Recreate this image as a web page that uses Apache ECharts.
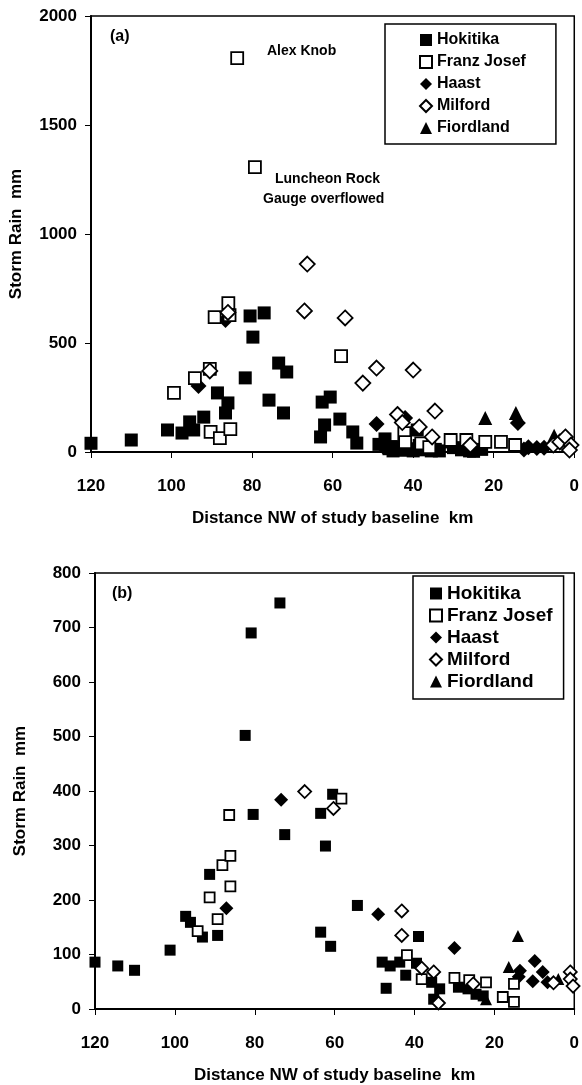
<!DOCTYPE html>
<html>
<head>
<meta charset="utf-8">
<script src="https://cdn.jsdelivr.net/npm/echarts@6/dist/echarts.min.js"></script>
<style>
  html, body { margin: 0; padding: 0; background: #fff; }
  #main { width: 582px; height: 1085px; }
</style>
</head>
<body>
<div id="main"></div>
<script>
// panel (a) - storm rain vs distance, [km, mm]
var hokitikaA = [[120,40],[110,55],[101,101],[97.4,87],[95.5,138],[94.5,101],[92,160],[88.6,271],[86.6,179],[86,225],
  [81.7,340],[80.5,624],[79.8,527],[77,638],[75.8,238],[73.4,408],[72.2,179],[71.4,367],[63,69],[62.6,229],[62,124],
  [60.6,252],[58.2,151],[55,92],[54,41],[48.5,35],[47,60],[46,15],[45,5],[44,25],[43,8],[41.5,15],[40,5],[39,101],
  [38.5,30],[37.5,10],[36.5,18],[35.5,5],[34.5,12],[33.5,5],[30.7,46],[30,20],[28,10],[26,5],[25,3],[23,12]];
var franzJosefA = [[83.7,1807],[79.3,1307],[99.4,271],[94.2,339],[90.5,381],[90.3,92],[89.3,619],[88,64],[85.9,683],
  [85.6,628],[85.4,105],[57.9,440],[42.2,87],[42,45],[38,40],[36,22],[30.7,55],[26.8,55],[22.1,46],[18.2,46],[14.7,32]];
var haastA = [[93.3,303],[86.6,605],[49.1,128],[42,156],[47.5,25],[14,133],[11.4,22],[9.3,18],[7.5,20],[12.5,12]];
var milfordA = [[90.5,372],[86,640],[66.3,862],[67,647],[56.9,615],[49.1,385],[52.5,316],[40,376],[34.6,188],[43.9,172],
  [42.7,135],[38.5,115],[35.3,69],[25.8,32],[5.2,32],[3.6,46],[2.2,69],[0.8,32],[1.2,9]];
var fiordlandA = [[22.1,156],[14.5,179],[5,75]];

// panel (b)
var hokitikaB = [[120,86],[114.3,79],[110.1,71],[101.2,108],[97.3,170],[96.1,159],[93.1,132],[91.3,247],[89.3,135],
  [82.4,502],[80.9,690],[80.4,357],[73.7,745],[72.5,320],[63.5,359],[60.5,394],[62.3,299],[54.3,190],[63.5,141],[61,115],
  [48.1,86],[47.1,38],[46.1,79],[43.7,86],[42.2,62],[39.5,84],[39,133],[35.7,49],[33.7,37],[35.2,18],[29,40],[26.6,37],
  [24.6,27],[22.8,24]];
var franzJosefB = [[94.3,143],[91.3,205],[89.3,165],[88.1,264],[86.1,281],[86.1,225],[86.4,356],[58.3,386],[41.9,99],
  [38.2,55],[30,57],[26.3,53],[22.1,49],[17.9,22],[15.1,13],[15.1,46]];
var haastB = [[87.1,185],[73.4,384],[49.1,174],[30,112],[13.6,70],[13.9,59],[9.9,88],[10.4,51],[7.9,68],[6.7,49]];
var milfordB = [[67.5,399],[60.3,368],[43.2,180],[43.2,135],[38.2,75],[35.2,68],[34,11],[25.3,46],[5.2,48],[1,68],[1,55],[0.3,42]];
var fiordlandB = [[14.1,134],[16.4,77],[22.1,18],[4,55]];

var siteNames = ['Hokitika', 'Franz Josef', 'Haast', 'Milford', 'Fiordland'];

var FONT = 'Liberation Sans';
var chart = echarts.init(document.getElementById('main'));

function xAx(idx) {
  return {
    gridIndex: idx, type: 'value', inverse: true, min: 0, max: 120, interval: 20,
    name: 'Distance NW of study baseline  km', nameLocation: 'middle', nameGap: 58,
    nameTextStyle: { fontFamily: FONT, fontWeight: 'bold', fontSize: 17, color: '#000' },
    axisLine: { show: true, onZero: false, lineStyle: { color: '#000', width: 2 } },
    axisTick: { show: true, length: 6, lineStyle: { color: '#000', width: 1 } },
    axisLabel: { fontFamily: FONT, fontWeight: 'bold', fontSize: 17, color: '#000', margin: 26 },
    splitLine: { show: false }
  };
}
function yAx(idx, max, step) {
  return {
    gridIndex: idx, type: 'value', min: 0, max: max, interval: step,
    name: 'Storm Rain  mm', nameLocation: 'middle', nameGap: 66,
    nameTextStyle: { fontFamily: FONT, fontWeight: 'bold', fontSize: 17, color: '#000' },
    axisLine: { show: true, onZero: false, lineStyle: { color: '#000', width: 2 } },
    axisTick: { show: true, length: 6, lineStyle: { color: '#000', width: 1 } },
    axisLabel: { fontFamily: FONT, fontWeight: 'bold', fontSize: 17, color: '#000', margin: 14,
      formatter: function (v) { return String(v); } },
    splitLine: { show: false }
  };
}

function seriesFor(idx, sets, sz) {
  var styles = [
    { symbol: 'rect', itemStyle: { color: '#000', opacity: 1 } },
    { symbol: 'rect', itemStyle: { color: '#fff', borderColor: '#000', borderWidth: 1.8, opacity: 1 } },
    { symbol: 'diamond', itemStyle: { color: '#000', opacity: 1 } },
    { symbol: 'diamond', itemStyle: { color: '#fff', borderColor: '#000', borderWidth: 1.8, opacity: 1 } },
    { symbol: 'triangle', itemStyle: { color: '#000', opacity: 1 } }
  ];
  var sizes = [sz, sz - 1, sz + 3, sz + 2, sz + 1];
  return sets.map(function (d, i) {
    return {
      name: siteNames[i], type: 'scatter', xAxisIndex: idx, yAxisIndex: idx,
      symbol: styles[i].symbol, symbolSize: sizes[i], itemStyle: styles[i].itemStyle,
      data: d, z: 2 + (i === 1 || i === 3 ? 1 : 0)
    };
  });
}

function txt(x, y, s, size) {
  return { type: 'text', left: x, top: y,
    style: { text: s, fontFamily: FONT, fontWeight: 'bold', fontSize: size || 15, fill: '#000' } };
}

chart.setOption({
  backgroundColor: '#fff',
  animation: false,
  grid: [
    { left: 88, right: 7, top: 16, height: 436, show: true, borderColor: '#000', borderWidth: 1.5, backgroundColor: 'transparent' },
    { left: 95, right: 3, top: 573, height: 437, show: true, borderColor: '#000', borderWidth: 1.5, backgroundColor: 'transparent' }
  ],
  xAxis: [xAx(0), xAx(1)],
  yAxis: [yAx(0, 2000, 500), yAx(1, 800, 100)],
  legend: [
    { data: siteNames, orient: 'vertical', left: 385, top: 24, itemWidth: 12, itemHeight: 12, itemGap: 6,
      padding: [8, 30, 8, 34], borderColor: '#000', borderWidth: 1.5,
      textStyle: { fontFamily: FONT, fontWeight: 'bold', fontSize: 16, color: '#000', lineHeight: 16 } },
    { data: siteNames, orient: 'vertical', left: 413, top: 576, itemWidth: 12, itemHeight: 12, itemGap: 3,
      padding: [8, 11, 8, 16], borderColor: '#000', borderWidth: 1.5,
      textStyle: { fontFamily: FONT, fontWeight: 'bold', fontSize: 19, color: '#000', lineHeight: 18 } }
  ],
  graphic: [
    txt(110, 29, '(a)', 16),
    txt(267, 44, 'Alex Knob', 14),
    txt(275, 172, 'Luncheon Rock', 14),
    txt(263, 192, 'Gauge overflowed', 14),
    txt(112, 586, '(b)', 16)
  ],
  series: seriesFor(0, [hokitikaA, franzJosefA, haastA, milfordA, fiordlandA], 13)
    .concat(seriesFor(1, [hokitikaB, franzJosefB, haastB, milfordB, fiordlandB], 11))
});
</script>
</body>
</html>
